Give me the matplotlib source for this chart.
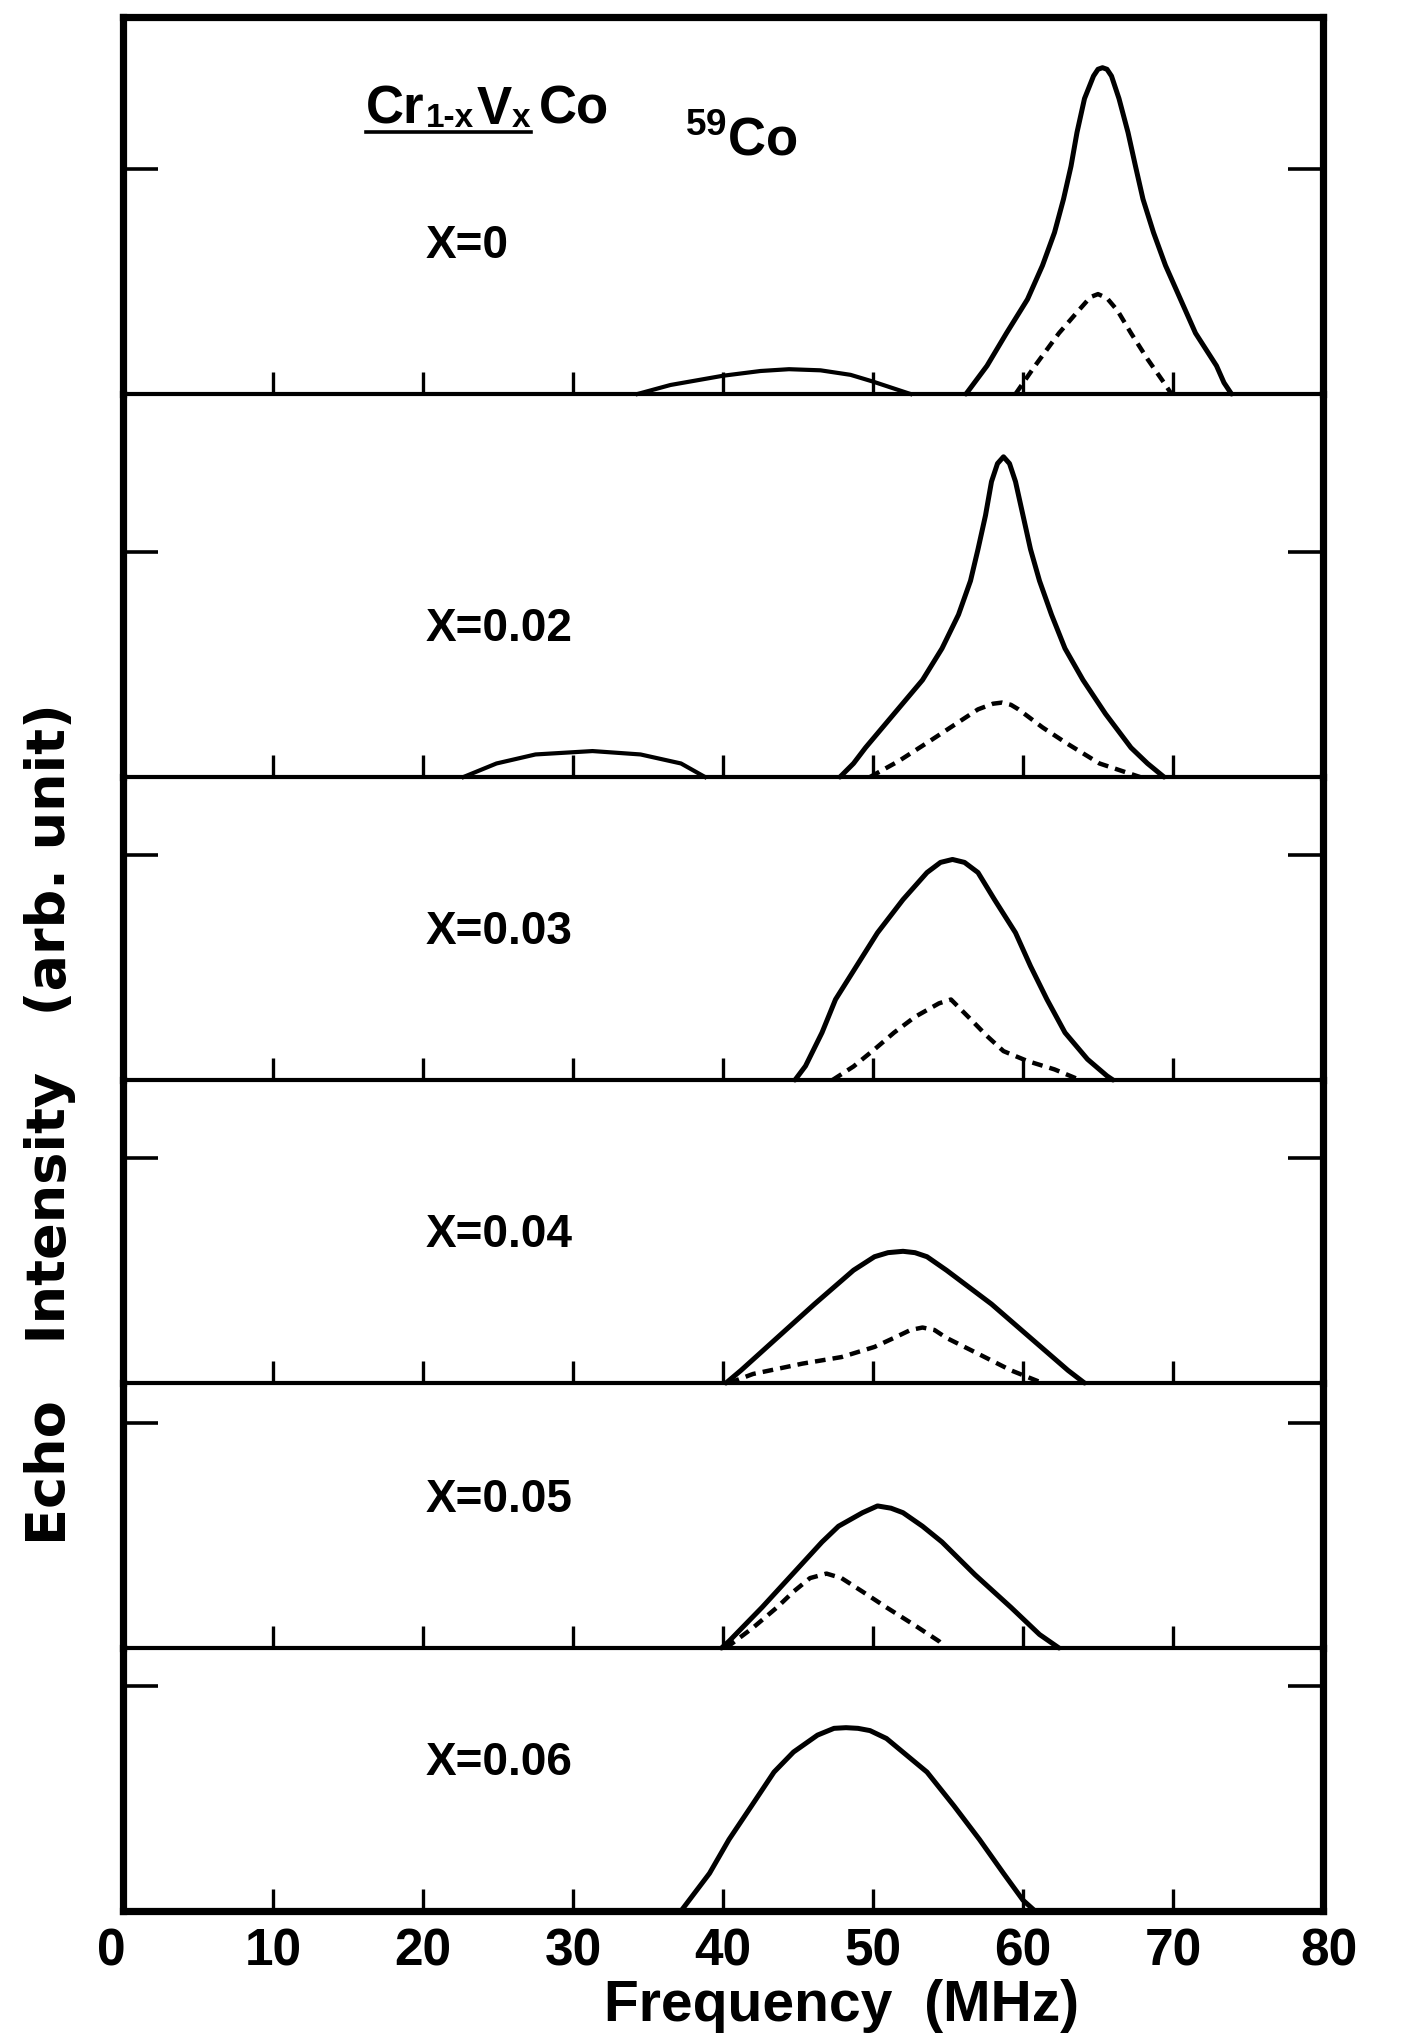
import matplotlib
matplotlib.use("Agg")
import matplotlib.pyplot as plt
import matplotlib.transforms as mtransforms
from matplotlib.lines import Line2D

plt.rcParams['font.family'] = ['Liberation Sans', 'DejaVu Sans']
plt.rcParams['font.weight'] = 'bold'
plt.rcParams['mathtext.fontset'] = 'custom'
plt.rcParams['mathtext.rm'] = 'Liberation Sans:bold'

# ---------------- data (frequency in MHz, echo intensity in arb. units) ----------------
compositions = ["X=0", "X=0.02", "X=0.03", "X=0.04", "X=0.05", "X=0.06"]
freq_ticks = [0, 10, 20, 30, 40, 50, 60, 70, 80]
freq_tick_labels = ["0", "10", "20", "30", "40", "50", "60", "70", "80"]
intensity_ticks = [1]

# x = 0
x0_solid_f = [56.2, 57.6, 58.9, 60.3, 61.3, 62.1, 62.7, 63.2, 63.6, 64.1, 64.7, 65.0, 65.3,
              65.6, 65.9, 66.4, 67.0, 67.5, 68.0, 68.7, 69.5, 70.5, 71.5, 72.9, 73.4, 73.9]
x0_solid_i = [0.0, 0.125, 0.27, 0.42, 0.57, 0.716, 0.864, 1.01, 1.16, 1.31, 1.41, 1.44, 1.447,
              1.44, 1.41, 1.31, 1.16, 1.01, 0.864, 0.716, 0.57, 0.42, 0.27, 0.125, 0.05, 0.0]
x0_dash_f = [59.5, 60.8, 62.4, 63.7, 64.5, 65.0, 65.6, 66.3, 67.2, 68.3, 69.4, 69.9]
x0_dash_i = [0.0, 0.125, 0.27, 0.37, 0.43, 0.443, 0.425, 0.37, 0.27, 0.155, 0.05, 0.0]
x0_low_f = [34.3, 36.5, 40.0, 42.5, 44.4, 46.5, 48.5, 50.0, 51.5, 52.5]
x0_low_i = [0.0, 0.04, 0.081, 0.102, 0.11, 0.105, 0.085, 0.055, 0.022, 0.0]

# x = 0.02
x2_solid_f = [47.8, 48.7, 49.5, 51.4, 53.3, 54.6, 55.7, 56.5, 57.0, 57.5, 57.9, 58.3, 58.7,
              59.1, 59.5, 60.0, 60.5, 61.1, 61.9, 62.8, 64.0, 65.5, 67.2, 68.3, 69.4]
x2_solid_i = [0.0, 0.06, 0.13, 0.28, 0.43, 0.57, 0.72, 0.87, 1.01, 1.16, 1.31, 1.39, 1.42,
              1.39, 1.31, 1.16, 1.01, 0.87, 0.72, 0.57, 0.43, 0.28, 0.13, 0.06, 0.0]
x2_dash_f = [49.8, 51.7, 53.8, 55.4, 57.0, 58.0, 58.6, 59.2, 59.7, 61.3, 62.9, 65.1, 67.8]
x2_dash_i = [0.0, 0.07, 0.16, 0.23, 0.30, 0.325, 0.33, 0.32, 0.30, 0.22, 0.15, 0.06, 0.0]
x2_low_f = [22.7, 24.9, 27.5, 31.3, 34.5, 37.2, 38.8]
x2_low_i = [0.0, 0.06, 0.10, 0.115, 0.10, 0.06, 0.0]

# x = 0.03
x3_solid_f = [44.8, 45.5, 46.6, 47.5, 48.9, 50.3, 52.0, 53.6, 54.5, 55.3, 56.1, 57.0, 58.1,
              59.5, 60.5, 61.6, 62.8, 64.3, 65.6, 66.0]
x3_solid_i = [0.0, 0.062, 0.21, 0.357, 0.505, 0.653, 0.80, 0.92, 0.965, 0.978, 0.965, 0.92, 0.80,
              0.653, 0.505, 0.357, 0.21, 0.092, 0.018, 0.0]
x3_dash_f = [47.3, 48.7, 50.1, 51.4, 52.8, 54.4, 55.2, 56.5, 57.6, 58.7, 60.3, 62.1, 63.8]
x3_dash_i = [0.0, 0.06, 0.136, 0.21, 0.28, 0.34, 0.357, 0.27, 0.195, 0.128, 0.084, 0.047, 0.0]

# x = 0.04
x4_solid_f = [40.2, 41.2, 43.6, 46.1, 48.7, 50.1, 51.0, 52.0, 52.8, 53.6, 54.9, 57.9, 60.5, 63.0, 64.1]
x4_solid_i = [0.0, 0.056, 0.2, 0.35, 0.5, 0.56, 0.578, 0.584, 0.578, 0.56, 0.50, 0.35, 0.2, 0.056, 0.0]
x4_dash_f = [40.4, 42.0, 45.3, 47.9, 50.1, 51.4, 52.5, 53.3, 54.1, 54.9, 57.0, 59.2, 61.3]
x4_dash_i = [0.0, 0.04, 0.086, 0.115, 0.16, 0.2, 0.235, 0.246, 0.235, 0.2, 0.13, 0.056, 0.0]

# x = 0.05
x5_solid_f = [39.9, 40.4, 42.6, 44.6, 46.6, 47.7, 49.3, 50.3, 51.2, 52.0, 53.3, 54.6, 56.8, 59.2, 61.1, 62.4]
x5_solid_i = [0.0, 0.03, 0.18, 0.325, 0.47, 0.54, 0.60, 0.63, 0.62, 0.60, 0.54, 0.47, 0.325, 0.18, 0.06, 0.0]
x5_dash_f = [40.2, 42.0, 43.6, 44.7, 45.8, 46.9, 47.9, 49.3, 50.9, 52.8, 54.4, 54.8]
x5_dash_i = [0.0, 0.09, 0.18, 0.25, 0.31, 0.33, 0.31, 0.25, 0.18, 0.10, 0.03, 0.0]

# x = 0.06
x6_solid_f = [37.2, 39.1, 40.4, 41.9, 43.4, 44.7, 46.3, 47.4, 48.2, 49.0, 49.8, 50.9, 53.6,
              55.4, 57.1, 58.7, 60.0, 60.8]
x6_solid_i = [0.0, 0.167, 0.317, 0.466, 0.616, 0.705, 0.78, 0.81, 0.813, 0.81, 0.80, 0.765, 0.616,
              0.466, 0.317, 0.167, 0.048, 0.0]

# ---------------- assemble ----------------
panels = [
    {"solid": (x0_solid_f, x0_solid_i), "dash": (x0_dash_f, x0_dash_i), "low": (x0_low_f, x0_low_i)},
    {"solid": (x2_solid_f, x2_solid_i), "dash": (x2_dash_f, x2_dash_i), "low": (x2_low_f, x2_low_i)},
    {"solid": (x3_solid_f, x3_solid_i), "dash": (x3_dash_f, x3_dash_i)},
    {"solid": (x4_solid_f, x4_solid_i), "dash": (x4_dash_f, x4_dash_i)},
    {"solid": (x5_solid_f, x5_solid_i), "dash": (x5_dash_f, x5_dash_i)},
    {"solid": (x6_solid_f, x6_solid_i)},
]

# ---------------- layout ----------------
W, H = 1402, 2037
panel_px = [377, 383, 303, 303, 265, 263]   # heights of the stacked panels (pixels)
unit_px = 225.5                              # one intensity unit (pixels)

fig = plt.figure(figsize=(W / 100, H / 100), dpi=100)
fig.patch.set_facecolor("white")
gs = fig.add_gridspec(6, 1, height_ratios=panel_px, hspace=0,
                      left=123 / W, right=1323 / W, top=1 - 17 / H, bottom=1 - 1911 / H)

FRAME_LW = 5.2
INNER_LW = 3.0
narrow = ['Liberation Sans Narrow', 'Liberation Sans', 'DejaVu Sans']

for i, pdata in enumerate(panels):
    ax = fig.add_subplot(gs[i])
    ax.set_xlim(0, 80)
    ax.set_ylim(0, panel_px[i] / unit_px)
    ax.set_facecolor("none")

    f, v = pdata["solid"]
    ax.plot(f, v, color="black", lw=3.6, solid_joinstyle="round", solid_capstyle="round",
            clip_on=False, zorder=3)
    if "dash" in pdata:
        f, v = pdata["dash"]
        ax.plot(f, v, color="black", lw=3.2, linestyle=(0, (2.4, 1.6)), clip_on=False, zorder=3)
    if "low" in pdata:
        f, v = pdata["low"]
        ax.plot(f, v, color="black", lw=3.0, solid_joinstyle="round", clip_on=False, zorder=3)

    ax.text(20.2, 0.657, compositions[i], fontsize=33, va="center", ha="left",
            family=['Liberation Sans', 'DejaVu Sans'], fontweight="bold")

    for s in ("left", "right"):
        ax.spines[s].set_linewidth(FRAME_LW)
    ax.spines["top"].set_visible(i == 0)
    ax.spines["top"].set_linewidth(FRAME_LW)
    ax.spines["bottom"].set_linewidth(FRAME_LW if i == len(panels) - 1 else INNER_LW)

    ax.set_yticks(intensity_ticks)
    ax.tick_params(axis="y", direction="in", length=25, width=2.6, left=True, right=True,
                   labelleft=False, labelright=False)

    if i == len(panels) - 1:
        ax.set_xticks(freq_ticks)
        ax.set_xticklabels(freq_tick_labels, fontsize=37, family=narrow, fontweight="bold")
        ax.tick_params(axis="x", direction="in", length=16, width=2.4, pad=12,
                       top=False, bottom=True, labelbottom=True)
        labs = ax.get_xticklabels()
        labs[0].set_transform(labs[0].get_transform() +
                              mtransforms.ScaledTranslation(-12 / 100, 0, fig.dpi_scale_trans))
        labs[-1].set_transform(labs[-1].get_transform() +
                               mtransforms.ScaledTranslation(6 / 100, 0, fig.dpi_scale_trans))
    else:
        ax.set_xticks(freq_ticks[1:-1])
        ax.tick_params(axis="x", direction="in", length=16, width=2.4,
                       top=False, bottom=True, labelbottom=False)

# axis labels
fig.text(842 / W, 1 - 2006 / H, "Frequency  (MHz)", fontsize=41, ha="center", va="center",
         fontweight="bold")
fig.text(50 / W, 1 - 1124 / H, "Echo   Intensity   (arb. unit)", fontsize=39,
         rotation=90, ha="center", va="center", family=['DejaVu Sans'], fontweight="bold")

# compound label built piece by piece (subscripts sit near the baseline)
renderer = fig.canvas.get_renderer()
base_px = 124
x_px = 366
pieces = [("Cr", 38, 0, 1), ("1-x", 24, 3, 3), ("V", 38, 0, 0), ("x", 24, 3, 0)]
first_x = x_px
for s, size, dy, gap in pieces:
    t = fig.text(x_px / W, 1 - (base_px + dy) / H, s, fontsize=size, ha="left", va="baseline",
                 fontweight="bold")
    bb = t.get_window_extent(renderer)
    x_px = bb.x1 + gap
under_end = x_px
uy = 1 - 132 / H
fig.add_artist(Line2D([first_x / W, under_end / W], [uy, uy], transform=fig.transFigure,
                      color="black", lw=2.6))
fig.text((under_end + 8) / W, 1 - base_px / H, "Co", fontsize=38, ha="left", va="baseline",
         fontweight="bold")

fig.text(685 / W, 1 - 156 / H, r"$^{\mathregular{59}}$Co", fontsize=38, ha="left",
         va="baseline", fontweight="bold")

fig.savefig("out.png", dpi=100, facecolor="white")
